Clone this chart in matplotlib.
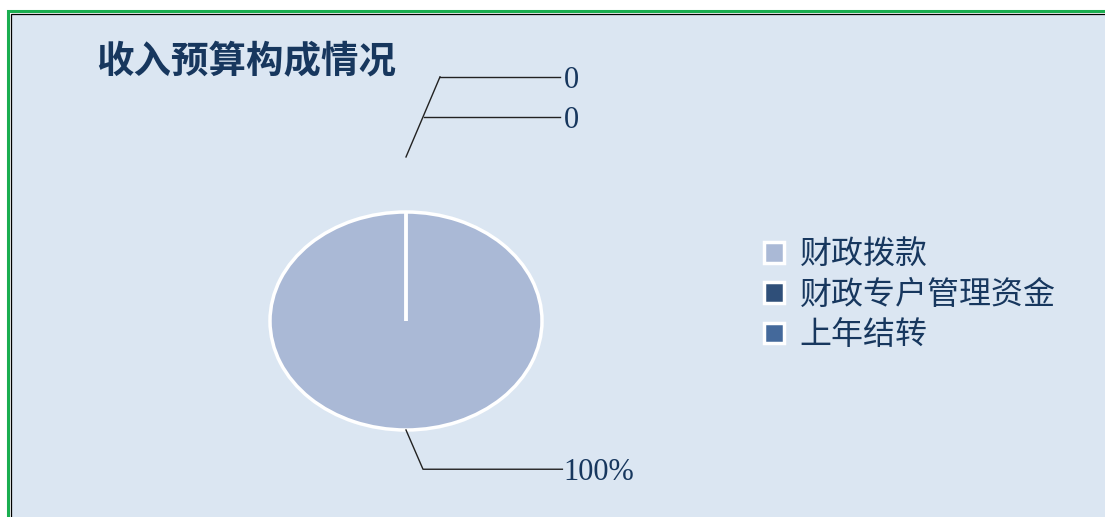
import matplotlib.pyplot as plt
from matplotlib.patches import Rectangle

plt.rcParams['font.family'] = ['Noto Sans CJK SC', 'DejaVu Sans']

# data
categories = ['财政拨款', '财政专户管理资金', '上年结转']
values = [100, 0, 0]
pct_labels = ['100%', '0', '0']
colors = ['#AAB9D6', '#2F4F79', '#44699B']

TITLE = '收入预算构成情况'
TEXT_COLOR = '#17375E'
BG = '#DBE6F2'

W, H = 1105, 517
fig = plt.figure(figsize=(W / 100, H / 100), dpi=100)
fig.patch.set_facecolor('white')

# outer green border + inner black line + blue fill (runs off right/bottom)
fig.patches.append(Rectangle((8 / W, -0.1), 1.2, (H - 11) / H + 0.1, transform=fig.transFigure,
                             facecolor='none', edgecolor='#1AAE50', linewidth=2.2, zorder=-2))
fig.patches.append(Rectangle((11 / W, -0.1), 1.2, (H - 14) / H + 0.1, transform=fig.transFigure,
                             facecolor=BG, edgecolor='black', linewidth=0.9, zorder=-1))

fig.text(96 / W, 1 - 62 / H, TITLE, fontsize=27, fontweight='bold', color=TEXT_COLOR,
         ha='left', va='center')

# pie axes: centre (406, 321) px, radii 136 x 109 px -> limits +/-1.25
cx, cy, rx, ry = 406, 321, 136, 109
ax = fig.add_axes([(cx - 1.25 * rx) / W, (H - cy - 1.25 * ry) / H, 2.5 * rx / W, 2.5 * ry / H])
ax.set_zorder(2)
wedges, _ = ax.pie(values, colors=colors, startangle=90, counterclock=False,
                   wedgeprops=dict(edgecolor='white', linewidth=2.5))
ax.set_aspect('auto')
ax.set_xlim(-1.25, 1.25)
ax.set_ylim(-1.25, 1.25)

# leader lines and value labels (in pie data units)
line_kw = dict(color='#222222', linewidth=1.0, clip_on=False)
lbl_kw = dict(fontsize=22, color=TEXT_COLOR, family=['Liberation Serif', 'DejaVu Serif'],
              va='center', ha='left', clip_on=False)
ax.plot([0, 0.25], [1.505, 2.24], **line_kw)
ax.plot([0.25, 1.13], [2.24, 2.24], **line_kw)
ax.plot([0.135, 1.13], [1.87, 1.87], **line_kw)
ax.text(1.16, 2.21, pct_labels[2], **lbl_kw)
ax.text(1.16, 1.84, pct_labels[1], **lbl_kw)
ax.plot([0, 0.125, 1.15], [-1.0, -1.36, -1.36], **line_kw)
ax.text(1.16, -1.39, pct_labels[0], **lbl_kw)

leg = fig.legend(wedges, categories, loc='center left', bbox_to_anchor=(748 / W, 1 - 295 / H),
                 frameon=False, fontsize=23, handlelength=0.62, handleheight=0.62,
                 handletextpad=0.5, labelspacing=0.26, borderpad=0)
for t in leg.get_texts():
    t.set_color(TEXT_COLOR)

fig.savefig('out.png', dpi=100, facecolor=fig.get_facecolor())
